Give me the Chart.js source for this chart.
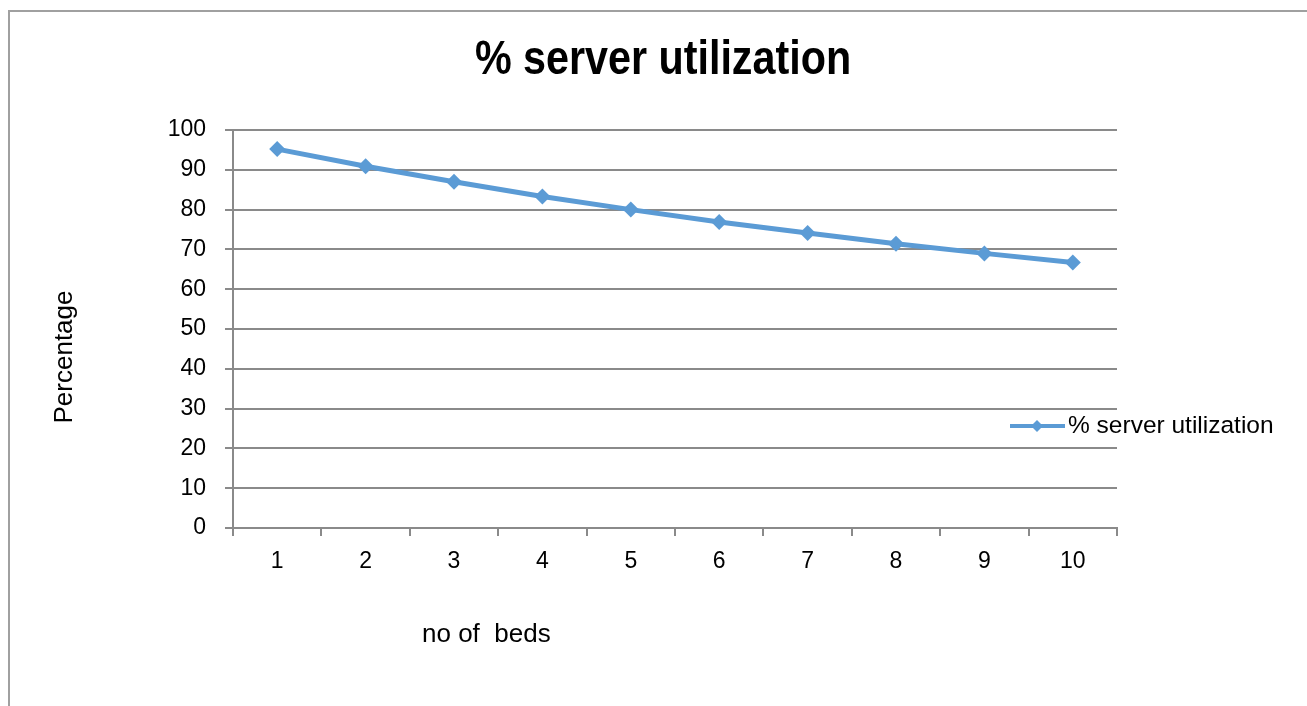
<!DOCTYPE html>
<html>
<head>
<meta charset="utf-8">
<title>% server utilization</title>
<script src="https://cdn.jsdelivr.net/npm/chart.js@4.4.1/dist/chart.umd.min.js"></script>
<style>
  html, body { margin: 0; padding: 0; background: #fff; overflow: hidden; }
  #wrap { position: relative; width: 1307px; height: 706px; }
  #frame {
    position: absolute; left: 8px; top: 10px; width: 1320px; height: 720px;
    border-top: 2px solid #a0a0a0; border-left: 2px solid #a0a0a0;
  }
  canvas { position: absolute; left: 0; top: 0; }
</style>
</head>
<body>
<div id="wrap">
  <div id="frame"></div>
  <canvas id="chart" width="1307" height="706"></canvas>
</div>
<script>
// data
const beds = ["1", "2", "3", "4", "5", "6", "7", "8", "9", "10"];
const utilization = [95.2, 90.9, 87.0, 83.3, 80.0, 76.9, 74.1, 71.4, 69.0, 66.7];
const seriesName = "% server utilization";
const chartTitle = "% server utilization";
const xTitle = "no of  beds";
const yTitle = "Percentage";

const BLUE = "#5b9bd5";
const GRID = "#8a8a8a";
const FONT = "'Liberation Sans', Arial, sans-serif";

// titles + legend are placed by hand, like the original sheet
const extras = {
  id: "extras",
  afterDraw(chart) {
    const { ctx, chartArea } = chart;
    ctx.save();
    ctx.fillStyle = "#000";
    ctx.textBaseline = "middle";

    // main title (condensed bold)
    ctx.save();
    ctx.font = `bold 48px ${FONT}`;
    ctx.textAlign = "center";
    ctx.translate(663, 61);
    ctx.scale(0.86, 1);
    ctx.fillText(chartTitle, 0, 0);
    ctx.restore();

    // x axis title
    ctx.font = `26px ${FONT}`;
    ctx.textAlign = "left";
    ctx.fillText(xTitle, chartArea.left + 189, 635);

    // y axis title
    ctx.save();
    ctx.translate(65, (chartArea.top + chartArea.bottom) / 2 + 28);
    ctx.rotate(-Math.PI / 2);
    ctx.textAlign = "center";
    ctx.fillText(yTitle, 0, 0);
    ctx.restore();

    // legend
    const ly = chartArea.top + 296;
    const lx = chartArea.right - 107;
    const ds = chart.data.datasets[0];
    ctx.strokeStyle = ds.borderColor;
    ctx.lineWidth = 4;
    ctx.beginPath();
    ctx.moveTo(lx, ly);
    ctx.lineTo(lx + 55, ly);
    ctx.stroke();
    ctx.fillStyle = ds.borderColor;
    ctx.beginPath();
    const r = 6;
    ctx.moveTo(lx + 27, ly - r);
    ctx.lineTo(lx + 27 + r, ly);
    ctx.lineTo(lx + 27, ly + r);
    ctx.lineTo(lx + 27 - r, ly);
    ctx.closePath();
    ctx.fill();
    ctx.fillStyle = "#000";
    ctx.font = `24.5px ${FONT}`;
    ctx.textAlign = "left";
    ctx.fillText(ds.label, lx + 58, ly);
    ctx.restore();
  }
};

new Chart(document.getElementById("chart"), {
  type: "line",
  data: {
    labels: beds,
    datasets: [{
      label: seriesName,
      data: utilization,
      borderColor: BLUE,
      backgroundColor: BLUE,
      borderWidth: 5,
      pointStyle: "rectRot",
      pointRadius: 8,
      pointHoverRadius: 8,
      pointBorderWidth: 0,
      tension: 0
    }]
  },
  options: {
    responsive: false,
    animation: false,
    layout: { padding: { left: 0, right: 190, top: 130, bottom: 0 } },
    plugins: {
      legend: { display: false },
      tooltip: { enabled: false },
      title: { display: false }
    },
    scales: {
      x: {
        type: "category",
        offset: true,
        afterFit: (s) => { s.height = 178; },
        grid: { offset: true, drawOnChartArea: false, drawTicks: true, tickLength: 8, color: GRID, lineWidth: 2 },
        border: { display: true, color: GRID, width: 2 },
        ticks: { color: "#000", font: { family: FONT, size: 23 }, padding: 12, maxRotation: 0 }
      },
      y: {
        min: 0,
        max: 100,
        afterFit: (s) => { s.width = 233; },
        ticks: { stepSize: 10, color: "#000", font: { family: FONT, size: 23 }, padding: 19 },
        grid: { color: GRID, lineWidth: 2, tickLength: 8 },
        border: { display: true, color: GRID, width: 2 }
      }
    }
  },
  plugins: [extras]
});
</script>
</body>
</html>
